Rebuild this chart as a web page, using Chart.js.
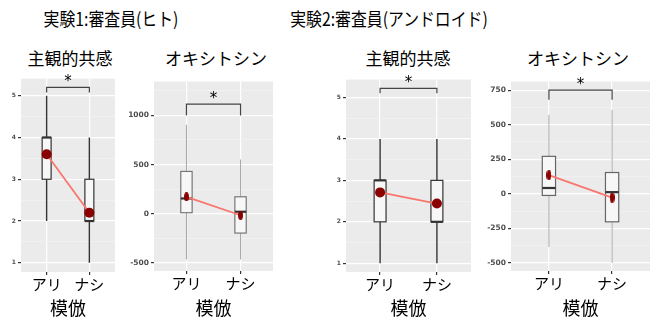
<!DOCTYPE html>
<html lang="ja">
<head>
  <meta charset="UTF-8">
  <title>模倣と主観的共感・オキシトシン</title>
  <script src="https://cdn.jsdelivr.net/npm/chart.js"></script>
  <style>
    body {
      margin: 0;
      background: #fff;
      font-family: "Noto Sans CJK JP", sans-serif;
    }
    #wrap {
      position: relative;
      width: 670px;
      height: 325px;
      overflow: hidden;
    }
    .title {
      position: absolute;
      white-space: nowrap;
      line-height: 1;
      color: #000;
      transform: translateX(-50%);
    }
    .main { font-size: 18px; top: 9px; transform: translateX(-50%) scaleX(0.88); }
    .sub { font-size: 17px; top: 49px; }
    canvas { position: absolute; }
  </style>
</head>
<body>
  <div id="wrap">
    <div class="title main" style="left:111px">実験1:審査員(ヒト)</div>
    <div class="title main" style="left:389px">実験2:審査員(アンドロイド)</div>
    <div class="title sub" style="left:70px">主観的共感</div>
    <div class="title sub" style="left:216px">オキシトシン</div>
    <div class="title sub" style="left:408px">主観的共感</div>
    <div class="title sub" style="left:578px">オキシトシン</div>
    <canvas id="p1" width="120" height="252" style="left:0;top:73px"></canvas>
    <canvas id="p2" width="158" height="250" style="left:120px;top:75px"></canvas>
    <canvas id="p3" width="154" height="251" style="left:322px;top:74px"></canvas>
    <canvas id="p4" width="178" height="250" style="left:477px;top:75px"></canvas>
  </div>
  <script>
    var conditions = ['アリ', 'ナシ'];

    // 箱ひげ: [最小, 第1四分位, 中央値, 第3四分位, 最大]
    var exp1EmpathyBox = [[2, 3, 4, 4, 5], [1, 2, 2, 3, 4]];
    var exp1EmpathyMean = [3.6, 2.2];
    var exp1OxytocinBox = [[-466, 10, 155, 430, 905], [-466, -197, 20, 172, 552]];
    var exp1OxytocinMean = [172, -16];

    var exp2EmpathyBox = [[1, 2, 3, 3, 4], [1, 2, 2, 3, 4]];
    var exp2EmpathyMean = [2.71, 2.44];
    var exp2OxytocinBox = [[-385, -12, 42, 271, 572], [-500, -203, 12, 154, 607]];
    var exp2OxytocinMean = [135, -28];

    // 有意差の括弧 [高さ, 下端]
    var exp1EmpathySig = [5.2, 5.08];
    var exp1OxytocinSig = [1115, 1000];
    var exp2EmpathySig = [5.22, 5.1];
    var exp2OxytocinSig = [750, 680];

    var empathyTicks = [1, 2, 3, 4, 5];
    var exp1OxytocinTicks = [-500, 0, 500, 1000];
    var exp2OxytocinTicks = [-500, -250, 0, 250, 500, 750];

    var FONT = '"Noto Sans CJK JP", sans-serif';
    var BOX_WIDTH = 0.21;

    function ellipseMark(w, h, color) {
      var c = document.createElement('canvas');
      c.width = w;
      c.height = h;
      var g = c.getContext('2d');
      g.fillStyle = color;
      g.beginPath();
      g.ellipse(w / 2, h / 2, w / 2, h / 2, 0, 0, Math.PI * 2);
      g.fill();
      return c;
    }

    // 灰色の背景
    var panelBg = {
      id: 'panelBg',
      beforeDraw: function(chart) {
        var a = chart.chartArea;
        chart.ctx.save();
        chart.ctx.fillStyle = '#EBEBEB';
        chart.ctx.fillRect(a.left, a.top, a.right - a.left, a.bottom - a.top);
        chart.ctx.restore();
      }
    };

    // 箱ひげ図と有意差の括弧
    var boxes = {
      id: 'boxes',
      beforeDatasetsDraw: function(chart, args, o) {
        var ctx = chart.ctx, x = chart.scales.x, y = chart.scales.y;
        ctx.save();
        o.stats.forEach(function(s, i) {
          var xc = x.getPixelForValue(i + 1);
          var xl = x.getPixelForValue(i + 1 - BOX_WIDTH / 2);
          var xr = x.getPixelForValue(i + 1 + BOX_WIDTH / 2);
          var yMin = y.getPixelForValue(s[0]), yQ1 = y.getPixelForValue(s[1]);
          var yMed = y.getPixelForValue(s[2]), yQ3 = y.getPixelForValue(s[3]);
          var yMax = y.getPixelForValue(s[4]);
          ctx.strokeStyle = o.whiskerColor;
          ctx.lineWidth = o.whiskerWidth;
          ctx.beginPath();
          ctx.moveTo(xc, yMax); ctx.lineTo(xc, yQ3);
          ctx.moveTo(xc, yQ1); ctx.lineTo(xc, yMin);
          ctx.stroke();
          ctx.fillStyle = '#F7F7F7';
          ctx.fillRect(xl, yQ3, xr - xl, yQ1 - yQ3);
          ctx.strokeStyle = o.boxColor;
          ctx.lineWidth = 1.2;
          ctx.strokeRect(xl, yQ3, xr - xl, yQ1 - yQ3);
          ctx.strokeStyle = '#333';
          ctx.lineWidth = 2.2;
          ctx.beginPath();
          ctx.moveTo(xl, yMed); ctx.lineTo(xr, yMed);
          ctx.stroke();
        });
        var x1 = x.getPixelForValue(1), x2 = x.getPixelForValue(2);
        var yb = y.getPixelForValue(o.sig[0]), yd = y.getPixelForValue(o.sig[1]);
        ctx.strokeStyle = '#444';
        ctx.lineWidth = 1.2;
        ctx.beginPath();
        ctx.moveTo(x1, yd); ctx.lineTo(x1, yb); ctx.lineTo(x2, yb); ctx.lineTo(x2, yd);
        ctx.stroke();
        ctx.fillStyle = '#000';
        ctx.font = '15px "DejaVu Sans", sans-serif';
        ctx.textAlign = 'center';
        ctx.textBaseline = 'middle';
        ctx.fillText('*', (x1 + x2) / 2, yb - 5);
        ctx.restore();
      }
    };

    function makePanel(id, p) {
      var minors = [];
      var step = p.ticks[1] - p.ticks[0];
      var candidates = p.ticks.map(function(t) { return t - step / 2; });
      candidates.push(p.ticks[p.ticks.length - 1] + step / 2);
      candidates.forEach(function(v) {
        if (v > p.min && v < p.max) minors.push(v);
      });
      var allTicks = p.ticks.concat(minors).sort(function(a, b) { return a - b; });
      var isMajor = function(v) { return p.ticks.indexOf(v) >= 0; };

      return new Chart(document.getElementById(id), {
        type: 'line',
        data: {
          datasets: [{
            data: p.mean.map(function(m, i) { return { x: i + 1, y: m }; }),
            borderColor: '#F8766D',
            borderWidth: 1.8,
            pointBackgroundColor: '#8B0000',
            pointBorderWidth: 0,
            pointRadius: 5,
            pointStyle: p.mark || 'circle'
          }]
        },
        options: {
          responsive: false,
          animation: false,
          devicePixelRatio: 1,
          layout: { padding: 0 },
          plugins: {
            legend: { display: false },
            tooltip: { enabled: false },
            boxes: {
              stats: p.box,
              sig: p.sig,
              whiskerColor: p.whiskerColor,
              whiskerWidth: p.whiskerWidth,
              boxColor: p.boxColor
            }
          },
          scales: {
            x: {
              type: 'linear',
              min: 0.4,
              max: 2.6,
              afterBuildTicks: function(s) { s.ticks = [{ value: 1 }, { value: 2 }]; },
              afterFit: function(s) { s.height = p.xHeight; },
              ticks: {
                autoSkip: false,
                maxRotation: 0,
                padding: 0,
                color: '#000',
                font: { size: 15, family: FONT },
                callback: function(v) { return conditions[v - 1]; }
              },
              grid: { color: '#fff', lineWidth: 1.2, tickColor: '#333', tickLength: 3 },
              border: { display: false },
              title: {
                display: true,
                text: '模倣',
                color: '#000',
                font: { size: 18, family: FONT },
                padding: { top: 0, bottom: 6 }
              }
            },
            y: {
              type: 'linear',
              min: p.min,
              max: p.max,
              afterBuildTicks: function(s) {
                s.ticks = allTicks.map(function(v) { return { value: v }; });
              },
              afterFit: function(s) { s.width = p.yWidth; },
              ticks: {
                autoSkip: false,
                padding: 2,
                color: '#4D4D4D',
                font: { size: p.tickSize, weight: 'bold', family: '"DejaVu Sans", sans-serif' },
                callback: function(v) { return isMajor(v) ? v : ''; }
              },
              grid: {
                color: function(c) { return c.tick && isMajor(c.tick.value) ? '#FFFFFF' : '#F4F4F4'; },
                lineWidth: function(c) { return c.tick && isMajor(c.tick.value) ? 1.2 : 0.7; },
                tickColor: function(c) { return c.tick && isMajor(c.tick.value) ? '#333' : 'rgba(0,0,0,0)'; },
                tickLength: 3
              },
              border: { display: false }
            }
          }
        },
        plugins: [panelBg, boxes]
      });
    }

    makePanel('p1', {
      box: exp1EmpathyBox, mean: exp1EmpathyMean, sig: exp1EmpathySig,
      ticks: empathyTicks, min: 0.78, max: 5.41,
      yWidth: 21, xHeight: 53, tickSize: 6,
      whiskerColor: '#333', whiskerWidth: 1.4, boxColor: '#333'
    });
    makePanel('p2', {
      box: exp1OxytocinBox, mean: exp1OxytocinMean, sig: exp1OxytocinSig,
      ticks: exp1OxytocinTicks, min: -583, max: 1345,
      yWidth: 34, xHeight: 54, tickSize: 7.5, mark: ellipseMark(5, 9, '#8B0000'),
      whiskerColor: '#A8A8A8', whiskerWidth: 1, boxColor: '#777'
    });
    makePanel('p3', {
      box: exp2EmpathyBox, mean: exp2EmpathyMean, sig: exp2EmpathySig,
      ticks: empathyTicks, min: 0.79, max: 5.43,
      yWidth: 24, xHeight: 53, tickSize: 6,
      whiskerColor: '#333', whiskerWidth: 1.4, boxColor: '#333'
    });
    makePanel('p4', {
      box: exp2OxytocinBox, mean: exp2OxytocinMean, sig: exp2OxytocinSig,
      ticks: exp2OxytocinTicks, min: -559, max: 813,
      yWidth: 34, xHeight: 54, tickSize: 7.5, mark: ellipseMark(5, 10, '#8B0000'),
      whiskerColor: '#A8A8A8', whiskerWidth: 1, boxColor: '#666'
    });
  </script>
</body>
</html>
